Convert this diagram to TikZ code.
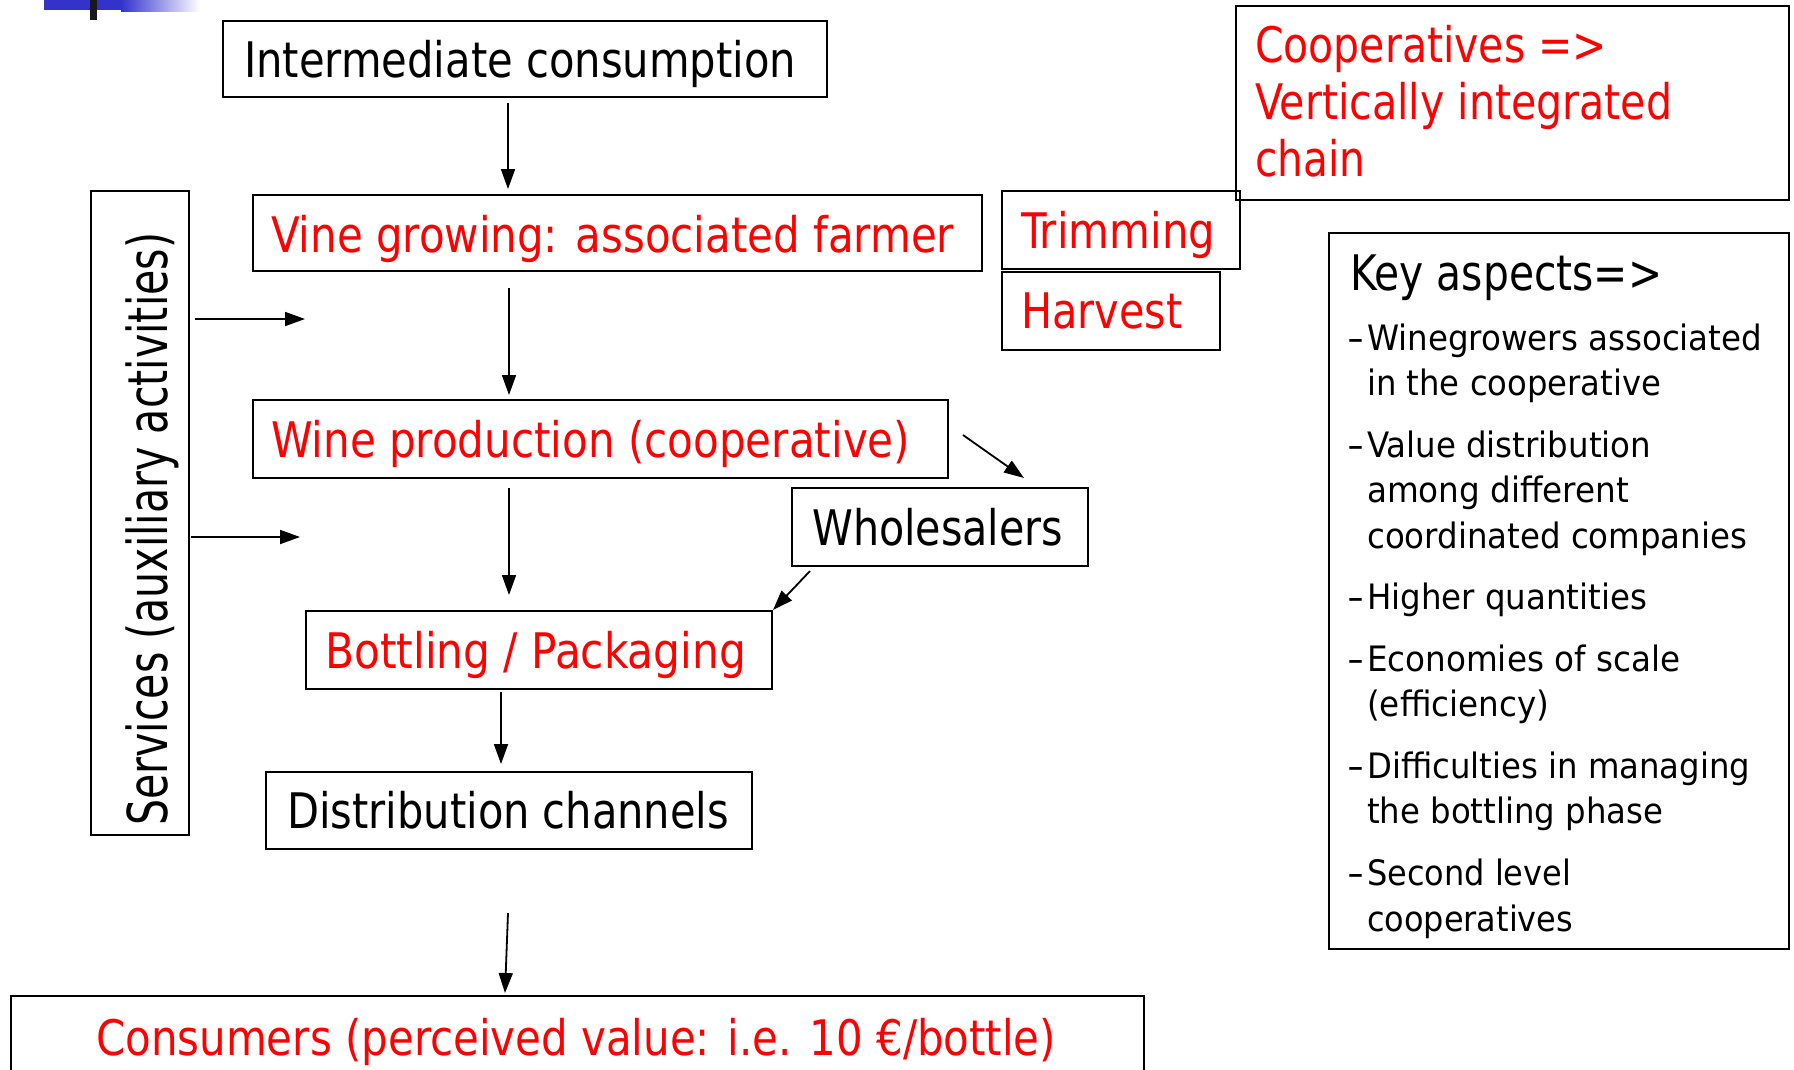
\documentclass[tikz,border=0pt]{standalone}
\usepackage{fontspec}
\usepackage{graphicx}
\usetikzlibrary{arrows.meta,calc}
\setmainfont{DejaVu Sans Condensed}

\definecolor{slidered}{RGB}{255,0,0}
\definecolor{decoblue}{RGB}{51,51,204}

\newcommand\bigfont{\fontsize{49}{59}\selectfont}
\newcommand\listfont{\fontsize{35}{45}\selectfont}
\newcommand\sidefont{\fontsize{55}{66}\selectfont}

% set a text line so that it spans exactly the given width (in pt)
\newsavebox\fitbox
\newcommand\fitw[2]{%
  \sbox\fitbox{#2}%
  \pgfmathsetmacro\fitratio{#1/\the\wd\fitbox}%
  \scalebox{\fitratio}[1]{\usebox\fitbox}}

\tikzset{
  box/.style={draw, line width=2pt, rectangle, inner sep=0pt, anchor=north west},
  txt/.style={anchor=base west, inner sep=0pt, font=\bigfont},
  rtxt/.style={txt, text=slidered},
  ltxt/.style={anchor=base west, inner sep=0pt, font=\listfont},
  arr/.style={line width=1.8pt, -{Triangle[length=20pt,width=14pt]}},
}

\begin{document}
\begin{tikzpicture}[x=1pt,y=-1pt]
\clip (0,0) rectangle (1794,1069);
\fill[white] (0,0) rectangle (1794,1069);

% corner decoration of the slide
\fill[decoblue] (44,0) rectangle (121,10);
\shade[left color=decoblue, right color=white] (121,0) rectangle (200,11);
\fill[black!90] (90,0) rectangle (97,20);

% frames
\node[box, minimum width=604pt, minimum height=76pt]  (ic)    at (222,20)  {};
\node[box, minimum width=729pt, minimum height=76pt]  (vine)  at (252,194) {};
\node[box, minimum width=238pt, minimum height=78pt]  (trim)  at (1001,190) {};
\node[box, minimum width=218pt, minimum height=78pt]  (harv)  at (1001,271) {};
\node[box, minimum width=553pt, minimum height=194pt] (coop)  at (1235,5)  {};
\node[box, minimum width=460pt, minimum height=716pt] (key)   at (1328,232) {};
\node[box, minimum width=98pt,  minimum height=644pt] (serv)  at (90,190)  {};
\node[box, minimum width=695pt, minimum height=78pt]  (wine)  at (252,399) {};
\node[box, minimum width=296pt, minimum height=78pt]  (whole) at (791,487) {};
\node[box, minimum width=466pt, minimum height=78pt]  (bott)  at (305,610) {};
\node[box, minimum width=486pt, minimum height=77pt]  (dist)  at (265,771) {};
\node[box, minimum width=1133pt, minimum height=110pt] (cons) at (10,995)  {};

% labels of the chain
\node[txt]  (icT)    at (244,77)   {\fitw{552}{Intermediate consumption}};
\node[rtxt] (vineT)  at (271,252)  {\fitw{683}{Vine growing: associated farmer}};
\node[rtxt] (trimT)  at (1021,248) {\fitw{194}{Trimming}};
\node[rtxt] (harvT)  at (1021,328) {\fitw{161}{Harvest}};
\node[rtxt] (wineT)  at (271,457)  {\fitw{639}{Wine production (cooperative)}};
\node[txt]  (wholeT) at (812,545)  {\fitw{251}{Wholesalers}};
\node[rtxt] (bottT)  at (325,668)  {\fitw{421}{Bottling / Packaging}};
\node[txt]  (distT)  at (287,828)  {\fitw{442}{Distribution channels}};
\node[rtxt] (consT)  at (96,1055)  {\fitw{960}{Consumers (perceived value: i.e. 10 €/bottle)}};
\node[anchor=base west, inner sep=0pt, font=\sidefont, rotate=90] (servT) at (167,826)
  {\fitw{593}{Services (auxiliary activities)}};

% cooperative note
\node[rtxt] (coop1) at (1255,62)  {\fitw{352}{Cooperatives =>}};
\node[rtxt] (coop2) at (1255,119) {\fitw{417}{Vertically integrated}};
\node[rtxt] (coop3) at (1255,176) {\fitw{110}{chain}};

% key aspects
\node[txt] (keyT) at (1350,290) {\fitw{312}{Key aspects=>}};
\node[ltxt] (d1) at (1347,350) {\fitw{17}{-}};
\node[ltxt] (k1a) at (1367,350)   {\fitw{395}{Winegrowers associated}};
\node[ltxt] (k1b) at (1367,395.5) {\fitw{294}{in the cooperative}};
\node[ltxt] (d2) at (1347,457) {\fitw{17}{-}};
\node[ltxt] (k2a) at (1367,457)   {\fitw{284}{Value distribution}};
\node[ltxt] (k2b) at (1367,502.5) {\fitw{262}{among different}};
\node[ltxt] (k2c) at (1367,548)   {\fitw{380}{coordinated companies}};
\node[ltxt] (d3) at (1347,609.7) {\fitw{17}{-}};
\node[ltxt] (k3a) at (1367,609.7) {\fitw{280}{Higher quantities}};
\node[ltxt] (d4) at (1347,671.3) {\fitw{17}{-}};
\node[ltxt] (k4a) at (1367,671.3) {\fitw{313}{Economies of scale}};
\node[ltxt] (k4b) at (1367,716.8) {\fitw{182}{(efficiency)}};
\node[ltxt] (d5) at (1347,778.4) {\fitw{17}{-}};
\node[ltxt] (k5a) at (1367,778.4) {\fitw{383}{Difficulties in managing}};
\node[ltxt] (k5b) at (1367,823.9) {\fitw{296}{the bottling phase}};
\node[ltxt] (d6) at (1347,885.5) {\fitw{17}{-}};
\node[ltxt] (k6a) at (1367,885.5) {\fitw{204}{Second level}};
\node[ltxt] (k6b) at (1367,931)   {\fitw{206}{cooperatives}};

% flow arrows
\draw[arr] ($(ic.south west)+(286,5)$)    -- ($(vine.north west)+(256,-5)$);
\draw[arr] ($(vine.south west)+(257,16)$) -- ($(wine.north west)+(257,-4)$);
\draw[arr] ($(wine.south west)+(257,9)$)  -- ($(bott.north west)+(204,-15)$);
\draw[arr] ($(bott.south west)+(196,2)$)  -- ($(dist.north west)+(236,-7)$);
\draw[arr] ($(dist.south west)+(243,63)$) -- ($(cons.north west)+(495,-2)$);
\draw[arr] ($(wine.north east)+(14,36)$)  -- ($(whole.north west)+(233,-9)$);
\draw[arr] ($(whole.south west)+(19,4)$)  -- (bott.north east);
\draw[arr] ($(serv.north east)+(5,129)$)  -- ($(serv.north east)+(115,129)$);
\draw[arr] ($(serv.north east)+(1,347)$)  -- ($(serv.north east)+(110,347)$);
\end{tikzpicture}
\end{document}
